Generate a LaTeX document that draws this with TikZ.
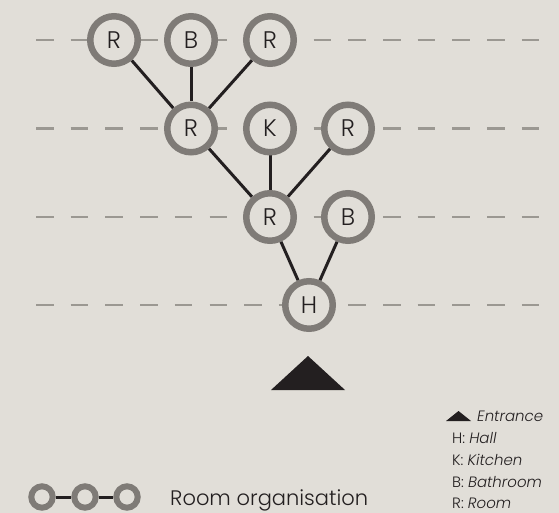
\documentclass[tikz,border=0pt]{standalone}
\usepackage{fontspec}
\setmainfont{Poppins}[UprightFont=* Light, ItalicFont=* Light Italic]
\usetikzlibrary{backgrounds}

\definecolor{paper}{HTML}{E1DED8}
\definecolor{ring}{HTML}{7F7B77}
\definecolor{dashgray}{HTML}{9B9892}
\definecolor{ink}{HTML}{231F20}

\tikzset{
  room/.style={circle, draw=ring, line width=6.5pt, fill=paper, minimum size=47.5pt,
    inner sep=0pt, text=ink, font=\fontsize{24}{24}\selectfont},
  keyroom/.style={circle, draw=ring, line width=6pt, fill=paper, minimum size=21.4pt, inner sep=0pt},
  link/.style={draw=ink, line width=3pt},
  floorline/.style={draw=dashgray, line width=2.7pt, dash pattern=on 17.5pt off 17.2pt},
  legend/.style={anchor=base west, text=ink, inner sep=0pt, font=\fontsize{15}{15}\selectfont},
}

\begin{document}
\begin{tikzpicture}[x=1pt,y=-1pt]
  \useasboundingbox (0,0) rectangle (559,513);

  % Rooms, floor by floor
  \node[room] (r1a) at (114,40) {R};
  \node[room] (r1b) at (191,40) {B};
  \node[room] (r1c) at (270,40) {R};

  \node[room] (r2a) at (191,128.5) {R};
  \node[room] (r2k) at (270,128.5) {K};
  \node[room] (r2c) at (348,128.5) {R};

  \node[room] (r3a) at (270,217) {R};
  \node[room] (r3b) at (348,217) {B};

  \node[room] (hall) at (309,305) {H};

  % Entrance
  \fill[ink] (271,390) -- (308,356) -- (345,390) -- cycle;

  % Legend
  \node[keyroom] (k1) at (42,497) {};
  \node[keyroom] (k2) at (85,497) {};
  \node[keyroom] (k3) at (127,497) {};
  \node[anchor=base west, text=ink, inner sep=0pt, font=\fontsize{21}{21}\selectfont] (orgtext) at (170,505) {Room organisation};

  \fill[ink] (446,421) -- (458.5,411) -- (471,421) -- cycle;
  \node[legend] (lentr) at (477,421) {\itshape Entrance};
  \node[legend] (lhall) at (452,443) {H: \textit{Hall}};
  \node[legend] (lkit) at (452,465) {K: \textit{Kitchen}};
  \node[legend] (lbath) at (452,487) {B: \textit{Bathroom}};
  \node[legend] (lroom) at (452,508.5) {R: \textit{Room}};

  \begin{scope}[on background layer]
    \fill[paper] (0,0) rectangle (559,513);

    % Floors
    \foreach \y in {40,128.5,217,305}
      \draw[floorline] (36,\y) -- (540,\y);

    % Connections
    \draw[link] (r1a) -- (r2a);
    \draw[link] (r1b) -- (r2a);
    \draw[link] (r1c) -- (r2a);
    \draw[link] (r2a) -- (r3a);
    \draw[link] (r2k) -- (r3a);
    \draw[link] (r2c) -- (r3a);
    \draw[link] (r3a) -- (hall);
    \draw[link] (r3b) -- (hall);
    \draw[link] (k1) -- (k2);
    \draw[link] (k2) -- (k3);
  \end{scope}
\end{tikzpicture}
\end{document}
